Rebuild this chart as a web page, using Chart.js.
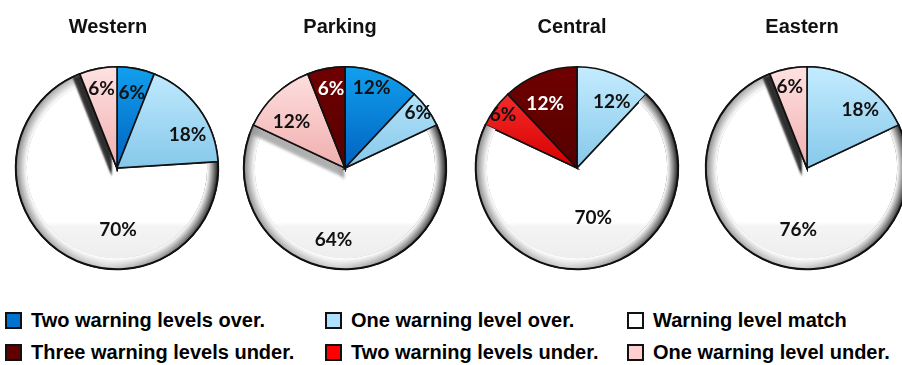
<!DOCTYPE html>
<html>
<head>
<meta charset="utf-8">
<script src="https://cdn.jsdelivr.net/npm/chart.js@4.4.1/dist/chart.umd.min.js"></script>
<style>
  html, body { margin: 0; padding: 0; background: #fff; }
  #wrap { position: relative; width: 902px; height: 365px; overflow: hidden; background: #fff; }
  .panel { position: absolute; top: 0; width: 230px; height: 290px; }
  .key { position: absolute; display: flex; align-items: center; white-space: nowrap;
         font-family: "Liberation Sans", Arial, sans-serif; font-weight: bold; font-size: 20px; color: #000; }
  .key i { display: inline-block; width: 17px; height: 17px; box-sizing: border-box;
           border: 2px solid #111; margin-right: 9px; }
</style>
</head>
<body>
<div id="wrap"></div>
<script>
// ---- data -------------------------------------------------------------
const regions = ['Western', 'Parking', 'Central', 'Eastern'];
const categories = [
  'Two warning levels over.',
  'One warning level over.',
  'Warning level match',
  'One warning level under.',
  'Two warning levels under.',
  'Three warning levels under.'
];
// share of cases (%) per category, clockwise from 12 o'clock
const western = [6, 18, 70, 6, 0, 0];
const parking = [12, 6, 64, 12, 0, 6];
const central = [0, 12, 70, 0, 6, 12];
const eastern = [0, 18, 76, 6, 0, 0];
const seriesByRegion = [western, parking, central, eastern];
// legend reading order (two rows of three)
const legendOrder = [0, 1, 2, 5, 4, 3];

// ---- styling ----------------------------------------------------------
const topColors    = ['#12a0ee', '#c4ecff', '#ffffff', '#ffe2e2', '#ff3b3b', '#700000'];
const bottomColors = ['#0062c0', '#86c8ea', '#ffffff', '#f0aeae', '#d60000', '#550000'];
const swatchColors = ['#0072cf', '#aee0ff', '#ffffff', '#ffcfcf', '#ff0000', '#600000'];
const labelColors  = ['#111', '#111', '#111', '#111', '#111', '#ffffff'];
const MATCH = 2;

const panelCenters = [117, 345, 577, 807];
const titleShift = [-9, -5, -5, -5];
// drop shadow the "under" wedges cast on the match wedge
const wedgeShadow = [
  { color: 'rgba(35,35,35,0.95)', dx: -6, dy: 4, blur: 2 },
  { color: 'rgba(150,150,150,0.75)', dx: -2, dy: 8, blur: 3 },
  null,
  { color: 'rgba(35,35,35,0.95)', dx: -6, dy: 4, blur: 2 }
];
// label anchor per wedge: [degrees clockwise from top, fraction of radius]
const labelSpots = [
  [[11, 0.76], [65, 0.77], [179, 0.61], [349, 0.80], null, null],
  [[18.5, 0.83], [53, 0.90], [189, 0.72], [311, 0.70], null, [350, 0.79]],
  [null, [27.6, 0.74], [162, 0.52], null, [305.7, 0.90], [333.7, 0.71]],
  [null, [42.4, 0.78], [188, 0.62], [348, 0.82], null, null]
];

function wedgeFill(c) {
  const chart = c.chart, i = c.dataIndex, area = chart.chartArea;
  if (!area) return swatchColors[i];
  const cy = (area.top + area.bottom) / 2, r = (area.bottom - area.top) / 2;
  const g = chart.ctx.createLinearGradient(0, cy - r, 0, cy + r);
  if (i === MATCH) {
    g.addColorStop(0, '#ffffff');
    g.addColorStop(0.765, '#ffffff');
    g.addColorStop(0.785, '#f4f4f4');
    g.addColorStop(1, '#ececec');
  } else {
    g.addColorStop(0, topColors[i]);
    g.addColorStop(0.5, bottomColors[i]);
    g.addColorStop(1, bottomColors[i]);
  }
  return g;
}

// bevelled rim on the match wedge, then wedge shadows, labels and heading
const bevelPlugin = {
  id: 'bevel',
  afterDatasetDraw(chart, args, opts) {
    const ctx = chart.ctx;
    const arcs = chart.getDatasetMeta(0).data;
    const m = arcs[MATCH];
    const { x, y, outerRadius: R, startAngle, endAngle } = m.getProps(['x', 'y', 'outerRadius', 'startAngle', 'endAngle'], true);

    // rim
    ctx.save();
    ctx.beginPath();
    ctx.arc(x, y, R - 0.5, startAngle, endAngle);
    ctx.arc(x, y, R - 11, endAngle, startAngle, true);
    ctx.closePath();
    const lg = ctx.createLinearGradient(x - R, 0, x + R, 0);
    lg.addColorStop(0, '#8e8e8e');
    lg.addColorStop(0.45, '#d2d2d2');
    lg.addColorStop(0.7, '#9a9a9a');
    lg.addColorStop(1, '#2f2f2f');
    ctx.fillStyle = lg;
    ctx.fill();
    const rg = ctx.createRadialGradient(x, y, R - 11, x, y, R - 1);
    rg.addColorStop(0, 'rgba(255,255,255,1)');
    rg.addColorStop(0.45, 'rgba(255,255,255,0.55)');
    rg.addColorStop(1, 'rgba(255,255,255,0)');
    ctx.fillStyle = rg;
    ctx.fill();
    ctx.beginPath();
    ctx.arc(x, y, R, startAngle, endAngle);
    ctx.lineWidth = 2;
    ctx.strokeStyle = '#111';
    ctx.stroke();
    ctx.restore();

    // shadow of the wedges following the match wedge
    const sh = opts.shadow;
    if (sh) {
      const casters = arcs.filter((a, i) => i > MATCH);
      ctx.save();
      ctx.beginPath();
      ctx.arc(x, y, R, 0, Math.PI * 2);
      ctx.clip();
      ctx.shadowColor = sh.color;
      ctx.shadowOffsetX = sh.dx;
      ctx.shadowOffsetY = sh.dy;
      ctx.shadowBlur = sh.blur;
      casters.forEach(a => a.draw(ctx));
      ctx.restore();
      arcs.forEach((a, i) => { if (i !== MATCH) a.draw(ctx); });
    }
  },
  afterDatasetsDraw(chart, args, opts) {
    const ctx = chart.ctx;
    const arcs = chart.getDatasetMeta(0).data;
    const values = chart.data.datasets[0].data;
    ctx.save();
    ctx.font = 'bold 19px Lato, "Open Sans", sans-serif';
    ctx.textAlign = 'center';
    ctx.textBaseline = 'middle';
    arcs.forEach((a, i) => {
      const spot = opts.spots[i];
      if (!values[i] || !spot) return;
      const ang = spot[0] * Math.PI / 180;
      const d = spot[1] * a.outerRadius;
      ctx.fillStyle = labelColors[i];
      ctx.fillText(values[i] + '%', a.x + Math.sin(ang) * d, a.y - Math.cos(ang) * d);
    });
    // panel heading
    ctx.fillStyle = '#111';
    ctx.font = 'bold 20px "Liberation Sans", Arial, sans-serif';
    ctx.fillText(opts.heading, chart.width / 2 + opts.headingShift, 27);
    ctx.restore();
  }
};

const wrap = document.getElementById('wrap');

regions.forEach((name, k) => {
  const box = document.createElement('div');
  box.className = 'panel';
  box.style.left = (panelCenters[k] - 115) + 'px';
  const cv = document.createElement('canvas');
  box.appendChild(cv);
  wrap.appendChild(box);

  new Chart(cv, {
    type: 'pie',
    data: {
      labels: categories,
      datasets: [{
        data: seriesByRegion[k],
        backgroundColor: wedgeFill,
        borderColor: '#111',
        borderWidth: c => (c.raw ? 1.6 : 0),
        borderJoinStyle: 'miter'
      }]
    },
    options: {
      responsive: true,
      maintainAspectRatio: false,
      animation: false,
      rotation: 0,
      layout: { padding: { top: 66, bottom: 20, left: 0, right: 0 } },
      plugins: {
        legend: { display: false },
        tooltip: { enabled: false },
        bevel: { shadow: wedgeShadow[k], spots: labelSpots[k], heading: name, headingShift: titleShift[k] }
      }
    },
    plugins: [bevelPlugin]
  });
});

// shared legend
const colX = [5, 325, 627];
const rowY = [312, 344];
legendOrder.forEach((ci, n) => {
  const item = document.createElement('div');
  item.className = 'key';
  item.style.left = colX[n % 3] + 'px';
  item.style.top = (rowY[Math.floor(n / 3)] - 3) + 'px';
  item.style.height = '23px';
  const sw = document.createElement('i');
  sw.style.background = swatchColors[ci];
  item.appendChild(sw);
  item.appendChild(document.createTextNode(categories[ci]));
  wrap.appendChild(item);
});
</script>
</body>
</html>
